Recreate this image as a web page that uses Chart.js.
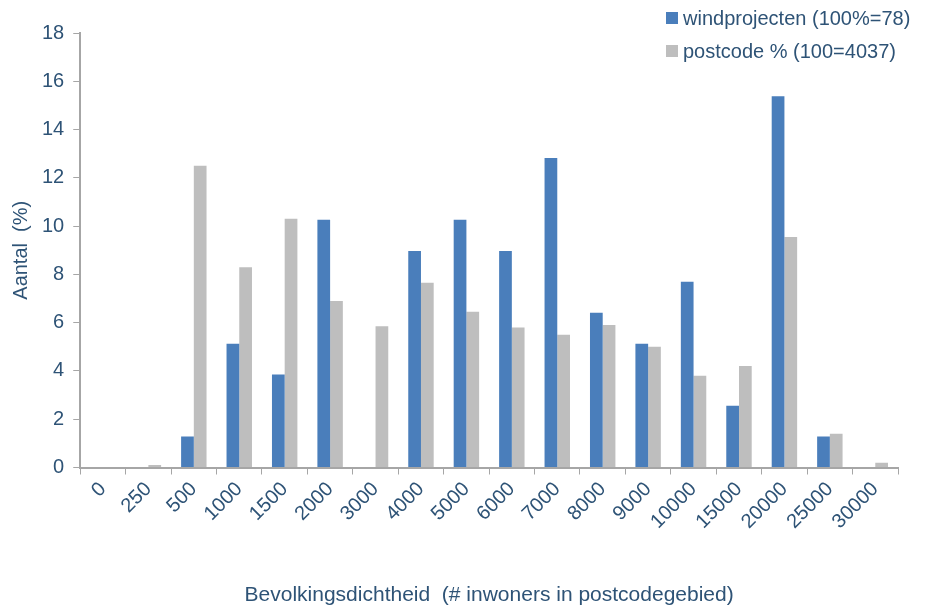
<!DOCTYPE html>
<html>
<head>
<meta charset="utf-8">
<script src="https://cdn.jsdelivr.net/npm/chart.js@4"></script>
<style>
  html, body { margin: 0; padding: 0; background: #fff; }
  #wrap { position: relative; width: 928px; height: 610px; }
  #legend { position: absolute; top: 2px; left: 666px; font-family: "Liberation Sans", Arial, sans-serif; font-size: 20px; color: #2e5376; line-height: 33px; }
  #legend span.box { display: inline-block; width: 12px; height: 12px; margin-right: 5px; vertical-align: 1px; }
</style>
</head>
<body>
<div id="wrap">
  <canvas id="chart" width="928" height="610"></canvas>
  <div id="legend"></div>
</div>
<script>
const categories = ['0', '250', '500', '1000', '1500', '2000', '3000', '4000', '5000', '6000',
    '7000', '8000', '9000', '10000', '15000', '20000', '25000', '30000']
const windprojecten = [0, 0, 1.28, 5.13, 3.85, 10.26, 0, 8.97, 10.26, 8.97,
    12.82, 6.41, 5.13, 7.69, 2.56, 15.38, 1.28, 0]
const postcode = [0, 0.1, 12.5, 8.3, 10.3, 6.9, 5.85, 7.65, 6.45, 5.8,
    5.5, 5.9, 5.0, 3.8, 4.2, 9.55, 1.4, 0.2]
const seriesLabels = ['windprojecten (100%=78)', 'postcode % (100=4037)']
const seriesColors = ['#4a7ebb', '#bebebe']

const textColor = '#2e5376'
const axisColor = '#a6a6a6'
const font = { family: '"Liberation Sans", Arial, sans-serif', size: 20 }

const chart = new Chart('chart', {
    type: 'bar',
    data: {
        labels: categories,
        datasets: [
            { label: seriesLabels[0], data: windprojecten, backgroundColor: seriesColors[0] },
            { label: seriesLabels[1], data: postcode, backgroundColor: seriesColors[1] },
        ],
    },
    options: {
        responsive: false,
        animation: false,
        layout: { padding: { top: 33, right: 30, left: 9, bottom: 0 } },
        datasets: { bar: { categoryPercentage: 0.56, barPercentage: 1.0 } },
        plugins: { legend: { display: false }, tooltip: { enabled: false } },
        scales: {
            x: {
                grid: { drawOnChartArea: false, color: axisColor, tickLength: 7, offset: true },
                border: { color: axisColor, width: 2 },
                ticks: { color: textColor, font: font, maxRotation: 45, minRotation: 45, padding: 3 },
                title: {
                    display: true,
                    text: 'Bevolkingsdichtheid  (# inwoners in postcodegebied)',
                    color: textColor,
                    font: { family: font.family, size: 21 },
                    padding: { top: 46, bottom: 2 },
                },
            },
            y: {
                min: 0,
                max: 18,
                grid: { drawOnChartArea: false, color: axisColor, tickLength: 7 },
                border: { color: axisColor, width: 2 },
                ticks: { stepSize: 2, color: textColor, font: font, padding: 9 },
                title: {
                    display: true,
                    text: 'Aantal  (%)',
                    color: textColor,
                    font: { family: font.family, size: 20 },
                    padding: { top: 0, bottom: 0 },
                },
            },
        },
    },
})

// legend stacked in the top right corner
const legend = document.getElementById('legend')
chart.data.datasets.forEach(ds => {
    const row = document.createElement('div')
    const box = document.createElement('span')
    box.className = 'box'
    box.style.background = ds.backgroundColor
    row.appendChild(box)
    row.appendChild(document.createTextNode(ds.label))
    legend.appendChild(row)
})
</script>
</body>
</html>
